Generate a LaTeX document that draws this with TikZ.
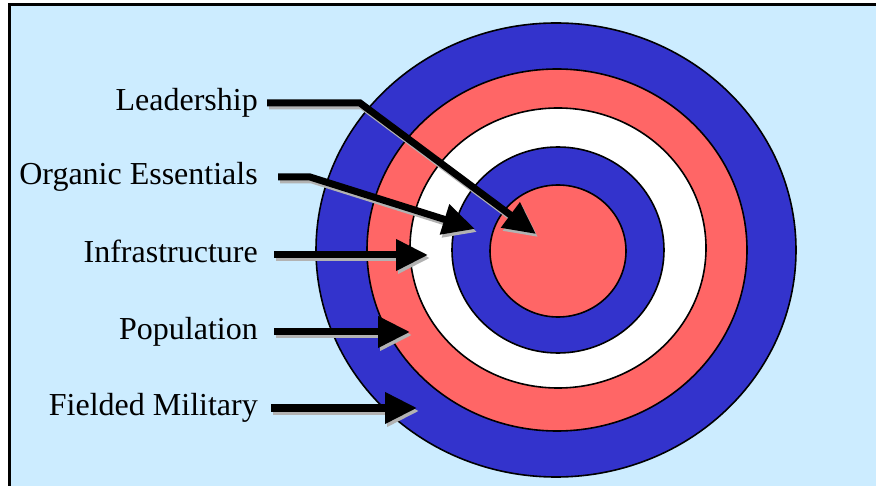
\documentclass[tikz,border=0pt]{standalone}
\usepackage{fontspec}
\setmainfont{Liberation Serif}
\usetikzlibrary{arrows.meta}
\definecolor{skyback}{HTML}{CCECFF}
\definecolor{ringblue}{HTML}{3333CC}
\definecolor{ringred}{HTML}{FF6666}
\definecolor{shadowgray}{HTML}{B2B2B2}
\tikzset{
  ring/.style={draw=black, line width=1.6pt},
  tag/.style={anchor=east, inner sep=0pt, text height=22pt, text depth=7pt,
    font=\fontsize{32}{38}\selectfont},
  pointer/.style={line width=7pt, -{Triangle[length=32pt,width=30pt]}}
}
\begin{document}
\begin{tikzpicture}[x=1pt,y=-1pt]
        \useasboundingbox (0,0) rectangle (876,486);
        \clip (0,0) rectangle (876,486);
        % podklad
        \draw[line width=3pt, fill=skyback] (9.5,4.5) rectangle (900,520);

        % terč
        \filldraw[ring, fill=ringblue] (556,250) ellipse [x radius=240pt, y radius=227pt];
        \filldraw[ring, fill=ringred] (557,250) ellipse [x radius=190pt, y radius=181pt];
        \filldraw[ring, fill=white] (558,248) ellipse [x radius=148pt, y radius=140pt];
        \filldraw[ring, fill=ringblue] (558,250) ellipse [x radius=106pt, y radius=103pt];
        \filldraw[ring, fill=ringred] (558,251) ellipse [x radius=68pt, y radius=66pt];

        % popisky
        \node[tag] (lead) at (258,103) {Leadership};
        \node[tag] (organic) at (258,177) {Organic Essentials};
        \node[tag] (infra) at (258,255) {Infrastructure};
        \node[tag] (pop) at (258,332) {Population};
        \node[tag] (military) at (258,408) {Fielded Military};

        % šipky (nejdřív stín, pak černě)
        \coordinate (lead-bend) at (360,103);
        \coordinate (lead-tip) at (536,234);
        \coordinate (organic-bend) at (310,177);
        \coordinate (organic-tip) at (475,229);
        \coordinate (infra-tip) at (428,255);
        \coordinate (pop-tip) at (410,332);
        \coordinate (military-tip) at (417,408);

        \foreach \dx/\dy/\col in {2/3/shadowgray, 0/0/black}
        {
          \begin{scope}[transform canvas={xshift=\dx pt, yshift=-\dy pt}]
            \draw[pointer, draw=\col] ([xshift=9pt]lead.east) -- (lead-bend) -- (lead-tip);
            \draw[pointer, draw=\col] ([xshift=20pt]organic.east) -- (organic-bend) -- (organic-tip);
            \draw[pointer, draw=\col] ([xshift=16pt]infra.east) -- (infra-tip);
            \draw[pointer, draw=\col] ([xshift=16pt]pop.east) -- (pop-tip);
            \draw[pointer, draw=\col] ([xshift=13pt]military.east) -- (military-tip);
          \end{scope}
        }
    \end{tikzpicture}
\end{document}
